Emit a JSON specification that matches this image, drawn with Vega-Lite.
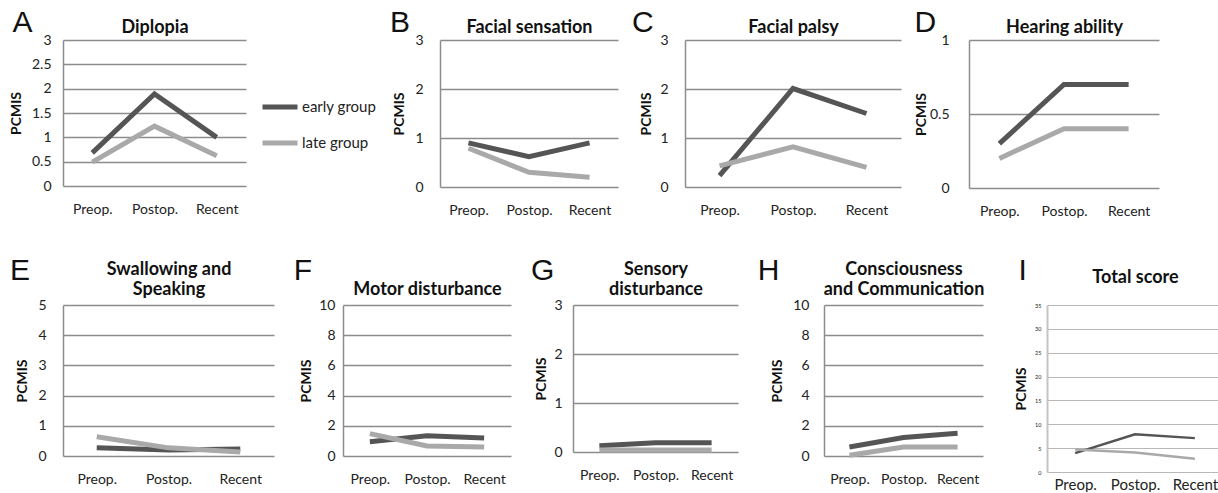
{
  "$schema": "https://vega.github.io/schema/vega-lite/v6.json",
  "padding": {"left": 9, "top": 8, "right": 0, "bottom": 0},
  "background": "white",
  "config": {
    "view": {"stroke": null},
    "font": "Lato",
    "title": {"font": "Liberation Sans", "fontSize": 30, "fontWeight": "normal", "anchor": "start", "frame": "bounds", "offset": -20, "color": "#111"},
    "axis": {"labelFont": "Lato", "titleFont": "Lato", "labelFontSize": 14, "titleFontSize": 14, "titleFontWeight": "bold", "ticks": false, "labelColor": "#222", "titleColor": "#111"},
    "axisX": {"domain": false, "grid": false, "labelAngle": 0, "labelPadding": 16, "titleLineHeight": 20},
    "axisY": {"grid": true, "domain": true, "gridColor": "#8c8c8c", "gridWidth": 1.5, "domainColor": "#8c8c8c", "domainWidth": 1.5, "labelPadding": 17, "titlePadding": 8},
    "legend": {"labelFont": "Lato", "labelFontSize": 15, "labelColor": "#222"},
    "line": {"strokeWidth": 5}
  },
  "datasets": {
    "pcmis": [
      {"panel": "A", "group": "early group", "time": "Preop.", "value": 0.68},
      {"panel": "A", "group": "early group", "time": "Postop.", "value": 1.89},
      {"panel": "A", "group": "early group", "time": "Recent", "value": 1.0},
      {"panel": "A", "group": "late group", "time": "Preop.", "value": 0.49},
      {"panel": "A", "group": "late group", "time": "Postop.", "value": 1.23},
      {"panel": "A", "group": "late group", "time": "Recent", "value": 0.62},
      {"panel": "B", "group": "early group", "time": "Preop.", "value": 0.9},
      {"panel": "B", "group": "early group", "time": "Postop.", "value": 0.62},
      {"panel": "B", "group": "early group", "time": "Recent", "value": 0.9},
      {"panel": "B", "group": "late group", "time": "Preop.", "value": 0.79},
      {"panel": "B", "group": "late group", "time": "Postop.", "value": 0.3},
      {"panel": "B", "group": "late group", "time": "Recent", "value": 0.2},
      {"panel": "C", "group": "early group", "time": "Preop.", "value": 0.23},
      {"panel": "C", "group": "early group", "time": "Postop.", "value": 2.01},
      {"panel": "C", "group": "early group", "time": "Recent", "value": 1.5},
      {"panel": "C", "group": "late group", "time": "Preop.", "value": 0.43},
      {"panel": "C", "group": "late group", "time": "Postop.", "value": 0.82},
      {"panel": "C", "group": "late group", "time": "Recent", "value": 0.4},
      {"panel": "D", "group": "early group", "time": "Preop.", "value": 0.3},
      {"panel": "D", "group": "early group", "time": "Postop.", "value": 0.7},
      {"panel": "D", "group": "early group", "time": "Recent", "value": 0.7},
      {"panel": "D", "group": "late group", "time": "Preop.", "value": 0.2},
      {"panel": "D", "group": "late group", "time": "Postop.", "value": 0.4},
      {"panel": "D", "group": "late group", "time": "Recent", "value": 0.4},
      {"panel": "E", "group": "early group", "time": "Preop.", "value": 0.27},
      {"panel": "E", "group": "early group", "time": "Postop.", "value": 0.2},
      {"panel": "E", "group": "early group", "time": "Recent", "value": 0.23},
      {"panel": "E", "group": "late group", "time": "Preop.", "value": 0.64},
      {"panel": "E", "group": "late group", "time": "Postop.", "value": 0.27},
      {"panel": "E", "group": "late group", "time": "Recent", "value": 0.13},
      {"panel": "F", "group": "early group", "time": "Preop.", "value": 0.94},
      {"panel": "F", "group": "early group", "time": "Postop.", "value": 1.34},
      {"panel": "F", "group": "early group", "time": "Recent", "value": 1.2},
      {"panel": "F", "group": "late group", "time": "Preop.", "value": 1.48},
      {"panel": "F", "group": "late group", "time": "Postop.", "value": 0.67},
      {"panel": "F", "group": "late group", "time": "Recent", "value": 0.6},
      {"panel": "G", "group": "early group", "time": "Preop.", "value": 0.13},
      {"panel": "G", "group": "early group", "time": "Postop.", "value": 0.19},
      {"panel": "G", "group": "early group", "time": "Recent", "value": 0.19},
      {"panel": "G", "group": "late group", "time": "Preop.", "value": 0.04},
      {"panel": "G", "group": "late group", "time": "Postop.", "value": 0.04},
      {"panel": "G", "group": "late group", "time": "Recent", "value": 0.04},
      {"panel": "H", "group": "early group", "time": "Preop.", "value": 0.6},
      {"panel": "H", "group": "early group", "time": "Postop.", "value": 1.22},
      {"panel": "H", "group": "early group", "time": "Recent", "value": 1.5},
      {"panel": "H", "group": "late group", "time": "Preop.", "value": 0.05},
      {"panel": "H", "group": "late group", "time": "Postop.", "value": 0.6},
      {"panel": "H", "group": "late group", "time": "Recent", "value": 0.6},
      {"panel": "I", "group": "early group", "time": "Preop.", "value": 3.95},
      {"panel": "I", "group": "early group", "time": "Postop.", "value": 7.9},
      {"panel": "I", "group": "early group", "time": "Recent", "value": 7.1},
      {"panel": "I", "group": "late group", "time": "Preop.", "value": 4.7},
      {"panel": "I", "group": "late group", "time": "Postop.", "value": 4.1},
      {"panel": "I", "group": "late group", "time": "Recent", "value": 2.8}
    ]
  },
  "resolve": {"scale": {"color": "independent"}, "legend": {"color": "independent"}},
  "columns": 1,
  "align": "none",
  "spacing": 38,
  "concat": [
    {
      "resolve": {"scale": {"color": "independent"}, "legend": {"color": "independent"}},
      "columns": 2,
      "align": "none",
      "spacing": 12,
      "concat": [
        {
          "width": 183, "height": 146,
          "title": {"text": "A", "dx": 3},
          "data": {"name": "pcmis"},
          "transform": [{"filter": "datum.panel === 'A'"}],
          "resolve": {"axis": {"x": "independent"}},
          "layer": [
            {"mark": "line", "encoding": {
              "x": {"field": "time", "type": "ordinal", "sort": ["Preop.", "Postop.", "Recent"], "scale": {"type": "point", "padding": 0.47}, "axis": {"orient": "bottom", "title": null}},
              "y": {"field": "value", "type": "quantitative", "scale": {"domain": [0, 3], "nice": false}, "axis": {"values": [0, 0.5, 1, 1.5, 2, 2.5, 3], "format": "~r", "title": "PCMIS", "labelPadding": 12}},
              "color": {"field": "group", "type": "nominal", "scale": {"domain": ["early group", "late group"], "range": ["#555555", "#a9a9a9"]},
                "legend": {"orient": "none", "legendX": 197, "legendY": 47, "title": null, "symbolType": "stroke", "symbolStrokeWidth": 5, "symbolSize": 1225, "rowPadding": 6, "labelOffset": 2}}
            }},
            {"mark": {"type": "rule", "strokeOpacity": 0}, "encoding": {
              "x": {"field": "time", "type": "ordinal", "sort": ["Preop.", "Postop.", "Recent"], "axis": {"orient": "top", "title": "Diplopia", "labels": false, "titlePadding": 4, "titleFontSize": 18}}
            }}
          ]
        },
        {
          "resolve": {"scale": {"color": "independent"}, "legend": {"color": "independent"}},
          "columns": 3,
          "align": "none",
          "spacing": 13,
          "concat": [
            {
              "width": 178, "height": 147,
              "title": {"text": "B", "dx": -3},
              "data": {"name": "pcmis"},
              "transform": [{"filter": "datum.panel === 'B'"}],
              "resolve": {"axis": {"x": "independent"}},
              "layer": [
                {"mark": "line", "encoding": {
                  "x": {"field": "time", "type": "ordinal", "sort": ["Preop.", "Postop.", "Recent"], "scale": {"type": "point", "padding": 0.47}, "axis": {"orient": "bottom", "title": null}},
                  "y": {"field": "value", "type": "quantitative", "scale": {"domain": [0, 3], "nice": false}, "axis": {"values": [0, 1, 2, 3], "format": "~r", "title": "PCMIS"}},
                  "color": {"field": "group", "type": "nominal", "scale": {"domain": ["early group", "late group"], "range": ["#555555", "#a9a9a9"]}, "legend": null}
                }},
                {"mark": {"type": "rule", "strokeOpacity": 0}, "encoding": {
                  "x": {"field": "time", "type": "ordinal", "sort": ["Preop.", "Postop.", "Recent"], "axis": {"orient": "top", "title": "Facial sensation", "labels": false, "titlePadding": 4, "titleFontSize": 18}}
                }}
              ]
            },
            {
              "width": 216, "height": 147,
              "title": {"text": "C", "dx": -8},
              "data": {"name": "pcmis"},
              "transform": [{"filter": "datum.panel === 'C'"}],
              "resolve": {"axis": {"x": "independent"}},
              "layer": [
                {"mark": "line", "encoding": {
                  "x": {"field": "time", "type": "ordinal", "sort": ["Preop.", "Postop.", "Recent"], "scale": {"type": "point", "padding": 0.47}, "axis": {"orient": "bottom", "title": null}},
                  "y": {"field": "value", "type": "quantitative", "scale": {"domain": [0, 3], "nice": false}, "axis": {"values": [0, 1, 2, 3], "format": "~r", "title": "PCMIS", "labelPadding": 17, "titlePadding": 6}},
                  "color": {"field": "group", "type": "nominal", "scale": {"domain": ["early group", "late group"], "range": ["#555555", "#a9a9a9"]}, "legend": null}
                }},
                {"mark": {"type": "rule", "strokeOpacity": 0}, "encoding": {
                  "x": {"field": "time", "type": "ordinal", "sort": ["Preop.", "Postop.", "Recent"], "axis": {"orient": "top", "title": "Facial palsy", "labels": false, "titlePadding": 4, "titleFontSize": 18}}
                }}
              ]
            },
            {
              "width": 190, "height": 148,
              "title": {"text": "D"},
              "data": {"name": "pcmis"},
              "transform": [{"filter": "datum.panel === 'D'"}],
              "resolve": {"axis": {"x": "independent"}},
              "layer": [
                {"mark": "line", "encoding": {
                  "x": {"field": "time", "type": "ordinal", "sort": ["Preop.", "Postop.", "Recent"], "scale": {"type": "point", "padding": 0.47}, "axis": {"orient": "bottom", "title": null}},
                  "y": {"field": "value", "type": "quantitative", "scale": {"domain": [0, 1], "nice": false}, "axis": {"values": [0, 0.5, 1], "format": "~r", "title": "PCMIS", "labelPadding": 20, "titlePadding": 1}},
                  "color": {"field": "group", "type": "nominal", "scale": {"domain": ["early group", "late group"], "range": ["#555555", "#a9a9a9"]}, "legend": null}
                }},
                {"mark": {"type": "rule", "strokeOpacity": 0}, "encoding": {
                  "x": {"field": "time", "type": "ordinal", "sort": ["Preop.", "Postop.", "Recent"], "axis": {"orient": "top", "title": "Hearing ability", "labels": false, "titlePadding": 4, "titleFontSize": 18}}
                }}
              ]
            }
          ]
        }
      ]
    },
    {
      "resolve": {"scale": {"color": "independent"}, "legend": {"color": "independent"}},
      "columns": 2,
      "align": "none",
      "spacing": 30,
      "concat": [
        {
          "resolve": {"scale": {"color": "independent"}, "legend": {"color": "independent"}},
          "columns": 4,
          "align": "none",
          "spacing": 19,
          "concat": [
            {
              "width": 211, "height": 151,
              "title": {"text": "E", "offset": -26, "dx": -6},
              "data": {"name": "pcmis"},
              "transform": [{"filter": "datum.panel === 'E'"}],
              "resolve": {"axis": {"x": "independent"}},
              "layer": [
                {"mark": "line", "encoding": {
                  "x": {"field": "time", "type": "ordinal", "sort": ["Preop.", "Postop.", "Recent"], "scale": {"type": "point", "padding": 0.47}, "axis": {"orient": "bottom", "title": null}},
                  "y": {"field": "value", "type": "quantitative", "scale": {"domain": [0, 5], "nice": false}, "axis": {"values": [0, 1, 2, 3, 4, 5], "format": "~r", "title": "PCMIS"}},
                  "color": {"field": "group", "type": "nominal", "scale": {"domain": ["early group", "late group"], "range": ["#555555", "#a9a9a9"]}, "legend": null}
                }},
                {"mark": {"type": "rule", "strokeOpacity": 0}, "encoding": {
                  "x": {"field": "time", "type": "ordinal", "sort": ["Preop.", "Postop.", "Recent"], "axis": {"orient": "top", "title": ["Swallowing and", "Speaking"], "labels": false, "titlePadding": 7, "titleFontSize": 18}}
                }}
              ]
            },
            {
              "width": 168, "height": 151,
              "title": {"text": "F", "offset": -26, "dx": -6},
              "data": {"name": "pcmis"},
              "transform": [{"filter": "datum.panel === 'F'"}],
              "resolve": {"axis": {"x": "independent"}},
              "layer": [
                {"mark": "line", "encoding": {
                  "x": {"field": "time", "type": "ordinal", "sort": ["Preop.", "Postop.", "Recent"], "scale": {"type": "point", "padding": 0.47}, "axis": {"orient": "bottom", "title": null}},
                  "y": {"field": "value", "type": "quantitative", "scale": {"domain": [0, 10], "nice": false}, "axis": {"values": [0, 2, 4, 6, 8, 10], "format": "~r", "title": "PCMIS", "labelPadding": 8, "titlePadding": 5}},
                  "color": {"field": "group", "type": "nominal", "scale": {"domain": ["early group", "late group"], "range": ["#555555", "#a9a9a9"]}, "legend": null}
                }},
                {"mark": {"type": "rule", "strokeOpacity": 0}, "encoding": {
                  "x": {"field": "time", "type": "ordinal", "sort": ["Preop.", "Postop.", "Recent"], "axis": {"orient": "top", "title": ["", "Motor disturbance"], "labels": false, "titlePadding": 7, "titleFontSize": 18}}
                }}
              ]
            },
            {
              "width": 165, "height": 147,
              "title": {"text": "G", "offset": -26, "dx": -4},
              "data": {"name": "pcmis"},
              "transform": [{"filter": "datum.panel === 'G'"}],
              "resolve": {"axis": {"x": "independent"}},
              "layer": [
                {"mark": "line", "encoding": {
                  "x": {"field": "time", "type": "ordinal", "sort": ["Preop.", "Postop.", "Recent"], "scale": {"type": "point", "padding": 0.47}, "axis": {"orient": "bottom", "title": null}},
                  "y": {"field": "value", "type": "quantitative", "scale": {"domain": [0, 3], "nice": false}, "axis": {"values": [0, 1, 2, 3], "format": "~r", "title": "PCMIS", "labelPadding": 11, "titlePadding": 5}},
                  "color": {"field": "group", "type": "nominal", "scale": {"domain": ["early group", "late group"], "range": ["#555555", "#a9a9a9"]}, "legend": null}
                }},
                {"mark": {"type": "rule", "strokeOpacity": 0}, "encoding": {
                  "x": {"field": "time", "type": "ordinal", "sort": ["Preop.", "Postop.", "Recent"], "axis": {"orient": "top", "title": ["Sensory", "disturbance"], "labels": false, "titlePadding": 7, "titleFontSize": 18}}
                }}
              ]
            },
            {
              "width": 159, "height": 151,
              "title": {"text": "H", "offset": -26, "dx": -13},
              "data": {"name": "pcmis"},
              "transform": [{"filter": "datum.panel === 'H'"}],
              "resolve": {"axis": {"x": "independent"}},
              "layer": [
                {"mark": "line", "encoding": {
                  "x": {"field": "time", "type": "ordinal", "sort": ["Preop.", "Postop.", "Recent"], "scale": {"type": "point", "padding": 0.47}, "axis": {"orient": "bottom", "title": null}},
                  "y": {"field": "value", "type": "quantitative", "scale": {"domain": [0, 10], "nice": false}, "axis": {"values": [0, 2, 4, 6, 8, 10], "format": "~r", "title": "PCMIS", "labelPadding": 15, "titlePadding": 8}},
                  "color": {"field": "group", "type": "nominal", "scale": {"domain": ["early group", "late group"], "range": ["#555555", "#a9a9a9"]}, "legend": null}
                }},
                {"mark": {"type": "rule", "strokeOpacity": 0}, "encoding": {
                  "x": {"field": "time", "type": "ordinal", "sort": ["Preop.", "Postop.", "Recent"], "axis": {"orient": "top", "title": ["Consciousness", "and Communication"], "labels": false, "titlePadding": 7, "titleFontSize": 18}}
                }}
              ]
            }
          ]
        },
        {
          "width": 176, "height": 167,
          "title": {"text": "I", "dx": 4, "offset": -18},
          "data": {"name": "pcmis"},
          "transform": [{"filter": "datum.panel === 'I'"}],
          "resolve": {"axis": {"x": "independent"}},
          "layer": [
            {"mark": {"type": "line", "strokeWidth": 2.5}, "encoding": {
              "x": {"field": "time", "type": "ordinal", "sort": ["Preop.", "Postop.", "Recent"], "scale": {"type": "point", "padding": 0.47}, "axis": {"orient": "bottom", "title": null, "labelPadding": 5, "labelFontSize": 15}},
              "y": {"field": "value", "type": "quantitative", "scale": {"domain": [0, 35], "nice": false}, "axis": {"values": [0, 5, 10, 15, 20, 25, 30, 35], "format": "~r", "title": "PCMIS", "labelFontSize": 5.5, "labelPadding": 6, "titlePadding": 6, "gridColor": "#b8b8b8", "domainColor": "#c4c4c4", "gridWidth": 1.2, "domainWidth": 2}},
              "color": {"field": "group", "type": "nominal", "scale": {"domain": ["early group", "late group"], "range": ["#555555", "#a9a9a9"]}, "legend": null}
            }},
            {"mark": {"type": "rule", "strokeOpacity": 0}, "encoding": {
              "x": {"field": "time", "type": "ordinal", "sort": ["Preop.", "Postop.", "Recent"], "axis": {"orient": "top", "title": "Total score", "labels": false, "titlePadding": 19, "titleFontSize": 18}}
            }}
          ]
        }
      ]
    }
  ]
}
